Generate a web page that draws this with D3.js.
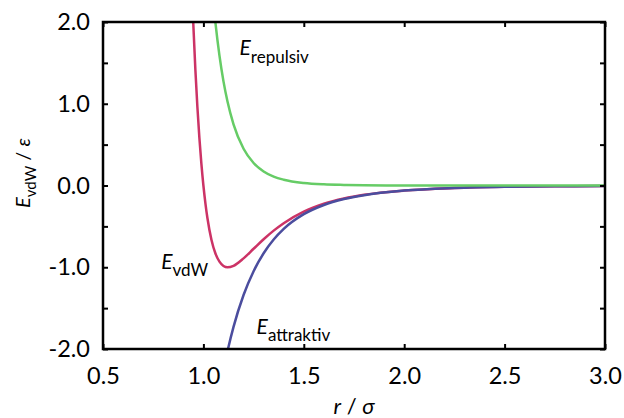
<!DOCTYPE html>
<html>
<head>
<meta charset="utf-8">
<script src="https://cdn.jsdelivr.net/npm/d3@7"></script>
<style>
  html, body { margin: 0; padding: 0; background: #fff; }
  svg { display: block; font-family: Lato, "Open Sans", sans-serif; }
</style>
</head>
<body>
<svg id="chart" width="624" height="418"></svg>
<script>
// r / sigma sample points and energies (in units of epsilon)
const rVdw   = [0.94, 0.95, 0.96, 0.97, 0.98, 0.99, 1.00, 1.01, 1.02, 1.04, 1.06, 1.08, 1.10, 1.12, 1.15, 1.20, 1.25, 1.30, 1.35, 1.40, 1.50, 1.60, 1.70, 1.80, 2.00, 2.25, 2.50, 2.75, 3.00];
const eVdw   = [2.606, 1.961, 1.418, 0.963, 0.582, 0.264, 0.000, -0.218, -0.398, -0.663, -0.832, -0.932, -0.984, -1.000, -0.982, -0.891, -0.774, -0.657, -0.552, -0.461, -0.320, -0.224, -0.159, -0.114, -0.062, -0.031, -0.016, -0.0096, -0.0055];

const rRep   = [1.05, 1.06, 1.08, 1.10, 1.12, 1.15, 1.20, 1.25, 1.30, 1.35, 1.40, 1.50, 1.60, 1.70, 1.80, 2.00, 2.50, 3.00];
const eRep   = [2.227, 1.988, 1.588, 1.274, 1.027, 0.748, 0.449, 0.275, 0.172, 0.109, 0.071, 0.031, 0.014, 0.007, 0.003, 0.001, 0.000, 0.000];

const rAtt   = [1.11, 1.12, 1.15, 1.20, 1.25, 1.30, 1.35, 1.40, 1.50, 1.60, 1.70, 1.80, 2.00, 2.25, 2.50, 2.75, 3.00];
const eAtt   = [-2.136, -2.026, -1.729, -1.340, -1.048, -0.829, -0.661, -0.531, -0.351, -0.238, -0.166, -0.118, -0.0625, -0.031, -0.016, -0.0096, -0.0055];

const xTicks = [0.5, 1.0, 1.5, 2.0, 2.5, 3.0];
const yTicks = [-2.0, -1.5, -1.0, -0.5, 0.0, 0.5, 1.0, 1.5, 2.0];

const svg = d3.select("#chart");
const L = 103, R = 605, T = 22, B = 349;

const x = d3.scaleLinear().domain([0.5, 3.0]).range([L, R]);
const y = d3.scaleLinear().domain([-2.0, 2.0]).range([B, T]);

svg.append("defs").append("clipPath").attr("id", "plotclip")
  .append("rect").attr("x", L).attr("y", T).attr("width", R - L).attr("height", B - T);

const line = d3.line().x(d => x(d[0])).y(d => y(d[1])).curve(d3.curveMonotoneX);
const g = svg.append("g").attr("clip-path", "url(#plotclip)");

const series = [
  { r: rVdw, e: eVdw, color: "#cc3366" },
  { r: rAtt, e: eAtt, color: "#4b4d9e" },
  { r: rRep, e: eRep, color: "#66cc66" }
];
series.forEach(s => {
  g.append("path")
    .datum(s.r.map((v, i) => [v, s.e[i]]))
    .attr("d", line)
    .attr("fill", "none")
    .attr("stroke", s.color)
    .attr("stroke-width", 2.5);
});

// axes (ticks inward)
const fmtY = d => Math.abs(d - Math.round(d)) < 1e-9 ? d.toFixed(1) : "";
const axL = svg.append("g").attr("transform", `translate(${L},0)`)
  .call(d3.axisLeft(y).tickValues(yTicks).tickSize(-5).tickPadding(13).tickFormat(fmtY));
const axR = svg.append("g").attr("transform", `translate(${R},0)`)
  .call(d3.axisRight(y).tickValues(yTicks).tickSize(-5).tickFormat(""));
const axB = svg.append("g").attr("transform", `translate(0,${B})`)
  .call(d3.axisBottom(x).tickValues(xTicks).tickSize(-5).tickPadding(18).tickFormat(d => d.toFixed(1)));
const axT = svg.append("g").attr("transform", `translate(0,${T})`)
  .call(d3.axisTop(x).tickValues(xTicks).tickSize(-5).tickFormat(""));

[axL, axR, axB, axT].forEach(a => {
  a.select(".domain").remove();
  a.selectAll(".tick line").attr("stroke", "#000").attr("stroke-width", 2);
  a.selectAll("text").attr("font-size", 23.5).attr("fill", "#000").attr("font-family", "Lato, sans-serif");
});

svg.append("rect").attr("x", L).attr("y", T).attr("width", R - L).attr("height", B - T)
  .attr("fill", "none").attr("stroke", "#000").attr("stroke-width", 2.5);

// curve labels
function eLabel(px, py, sub, size, subSize, dy) {
  const t = svg.append("text").attr("x", px).attr("y", py).attr("font-size", size).attr("fill", "#000");
  t.append("tspan").attr("font-style", "italic").text("E");
  t.append("tspan").attr("dy", dy).attr("font-size", subSize).text(sub);
  return t;
}
eLabel(x(1.18), y(1.60), "repulsiv", 21, 17, 8);
eLabel(x(0.79), y(-1.02), "vdW", 21, 17, 7);
eLabel(x(1.265), y(-1.82), "attraktiv", 21, 17, 7);

// axis titles
const xt = svg.append("text").attr("x", (L + R) / 2).attr("y", 414).attr("text-anchor", "middle")
  .attr("font-size", 22).attr("fill", "#000");
xt.append("tspan").attr("font-style", "italic").text("r");
xt.append("tspan").text(" / ");
xt.append("tspan").attr("font-style", "italic").text("σ");

const yt = svg.append("text").attr("transform", `translate(30,173) rotate(-90)`).attr("text-anchor", "middle")
  .attr("font-size", 20).attr("fill", "#000");
yt.append("tspan").attr("font-style", "italic").text("E");
yt.append("tspan").attr("dy", 6).attr("font-size", 15).text("vdW");
yt.append("tspan").attr("dy", -6).text(" / ");
yt.append("tspan").attr("font-style", "italic").text("ε");
</script>
</body>
</html>
